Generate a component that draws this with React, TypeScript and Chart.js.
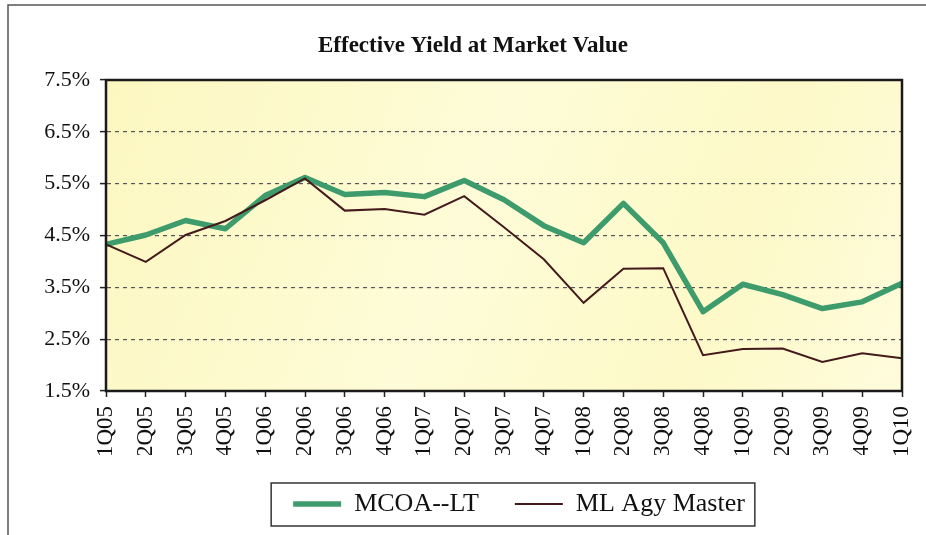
import React, { useEffect, useRef } from 'react';
import { Chart, registerables } from 'chart.js';

Chart.register(...registerables);

const quarters = ['1Q05', '2Q05', '3Q05', '4Q05', '1Q06', '2Q06', '3Q06', '4Q06', '1Q07', '2Q07', '3Q07', '4Q07', '1Q08', '2Q08', '3Q08', '4Q08', '1Q09', '2Q09', '3Q09', '4Q09', '1Q10'];
const mcoaLT = [4.33, 4.51, 4.79, 4.63, 5.27, 5.62, 5.29, 5.33, 5.25, 5.56, 5.19, 4.69, 4.36, 5.12, 4.36, 3.03, 3.56, 3.36, 3.09, 3.22, 3.58];
const mlAgyMaster = [4.33, 3.99, 4.51, 4.78, 5.18, 5.60, 4.98, 5.01, 4.90, 5.26, 4.66, 4.04, 3.20, 3.86, 3.87, 2.19, 2.31, 2.32, 2.06, 2.23, 2.13];
const seriesNames = ['MCOA--LT', 'ML Agy Master'];
const yMin = 1.5;
const yMax = 7.5;
const yStep = 1;
const titleText = 'Effective Yield at Market Value';

const FONT = "'Liberation Serif', 'Times New Roman', serif";
const GREEN = '#3e9c6c';
const BROWN = '#441a1c';
const WIDTHS = [5.5, 2];

const decor = {
  id: 'decor',
  afterLayout(chart: any) {
    const tb = chart.titleBlock;
    if (tb) { tb.left += 22; tb.right += 22; }
    const lg = chart.legend;
    if (lg && lg.lineWidths) {
      const pad = lg.options.labels.padding;
      const lw = lg.lineWidths[0];
      const start = (lg.left + pad + lg.right - lw) / 2;
      const center = start + (lw - pad) / 2;
      const dx = 519 - center;
      lg.left += dx; lg.right += dx;
    }
  },
  beforeDraw(chart: any) {
    const { ctx, chartArea: a } = chart;
    ctx.save();
    ctx.fillStyle = '#ffffff';
    ctx.fillRect(0, 0, chart.width, chart.height);
    ctx.strokeStyle = '#555';
    ctx.lineWidth = 1.5;
    ctx.beginPath();
    ctx.moveTo(8, chart.height);
    ctx.lineTo(8, 5);
    ctx.lineTo(chart.width, 5);
    ctx.stroke();
    const g = ctx.createLinearGradient(a.left, a.top, a.right, a.bottom);
    g.addColorStop(0, '#fcf7c0');
    g.addColorStop(0.45, '#fefcd8');
    g.addColorStop(0.75, '#fdf9c8');
    g.addColorStop(1, '#fefcdc');
    ctx.fillStyle = g;
    ctx.fillRect(a.left, a.top, a.right - a.left, a.bottom - a.top);
    ctx.restore();
  },
  afterDraw(chart: any) {
    const { ctx, chartArea: a } = chart;
    ctx.save();
    ctx.strokeStyle = '#1a1a1a';
    ctx.lineWidth = 2.5;
    ctx.strokeRect(a.left, a.top, a.right - a.left, a.bottom - a.top);
    const hb = chart.legend && chart.legend.legendHitBoxes;
    if (hb && hb.length) {
      const first = hb[0];
      const last = hb[hb.length - 1];
      const l = first.left - 22;
      const r = last.left + last.width + 10;
      const t = first.top - 8;
      const b = first.top + first.height + 9;
      ctx.strokeStyle = '#333';
      ctx.lineWidth = 1.5;
      ctx.strokeRect(l, t, r - l, b - t);
    }
    ctx.restore();
  },
};

export default function App() {
  const ref = useRef<HTMLCanvasElement | null>(null);
  useEffect(() => {
    if (!ref.current) return;
    const chart = new Chart(ref.current, {
      type: 'line',
      data: {
        labels: quarters,
        datasets: [
          { label: seriesNames[0], data: mcoaLT, borderColor: GREEN, backgroundColor: GREEN, borderWidth: WIDTHS[0], pointRadius: 0, tension: 0, order: 2, borderJoinStyle: 'round' },
          { label: seriesNames[1], data: mlAgyMaster, borderColor: BROWN, backgroundColor: BROWN, borderWidth: WIDTHS[1], pointRadius: 0, tension: 0, order: 1 },
        ],
      },
      options: {
        animation: false,
        responsive: false,
        devicePixelRatio: 1,
        layout: { padding: { left: 0, right: 24, top: 0, bottom: 8 } },
        scales: {
          x: {
            grid: { display: true, drawOnChartArea: false, drawTicks: true, tickLength: 6, tickColor: '#222', tickWidth: 1.5 },
            border: { display: true, color: '#111', width: 2 },
            ticks: { autoSkip: false, maxRotation: 90, minRotation: 90, padding: 9, color: '#111', font: { family: FONT, size: 23 } },
            afterFit: (s: any) => { s.height = 64; s.paddingRight = 0; s.paddingLeft = 0; },
          },
          y: {
            min: yMin,
            max: yMax,
            ticks: { stepSize: yStep, padding: 10, color: '#111', font: { family: FONT, size: 22 }, callback: (v: any) => Number(v).toFixed(1) + '%' },
            grid: { color: '#555', lineWidth: 1.2, tickLength: 6, tickColor: '#222', tickWidth: 1.5, tickBorderDash: [] },
            border: { display: true, color: '#111', width: 2, dash: [4, 4] },
            afterFit: (s: any) => { s.width = 106; },
          },
        },
        plugins: {
          title: { display: true, text: titleText, color: '#111', font: { family: FONT, size: 23, weight: 'bold', lineHeight: 1.2 }, padding: { top: 32.2, bottom: 20.2 } },
          legend: {
            display: true,
            position: 'bottom',
            labels: {
              usePointStyle: true,
              pointStyleWidth: 48,
              padding: 36,
              color: '#111',
              font: { family: FONT, size: 26 },
              generateLabels: (c: any) => c.data.datasets.map((ds: any, i: number) => ({
                text: ds.label,
                fillStyle: ds.borderColor,
                strokeStyle: ds.borderColor,
                lineWidth: WIDTHS[i],
                pointStyle: 'line',
                hidden: false,
                datasetIndex: i,
                fontColor: '#111',
                lineCap: 'butt',
              })),
            },
          },
          tooltip: { enabled: false },
        },
      } as any,
      plugins: [decor],
    });
    return () => chart.destroy();
  }, []);
  return (
    <div style={{ position: 'fixed', left: 0, top: 0, width: 926, height: 535, background: '#fff' }}>
      <canvas ref={ref} width={926} height={535} style={{ display: 'block', width: 926, height: 535 }} />
    </div>
  );
}
